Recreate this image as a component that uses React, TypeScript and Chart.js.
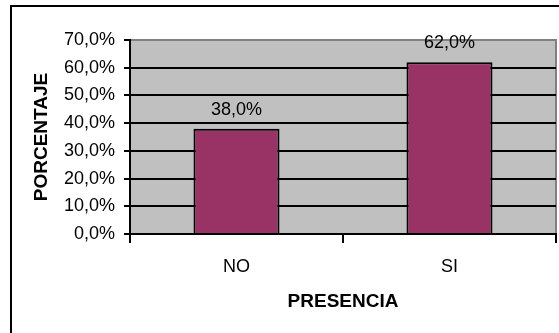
import React, { useEffect, useRef } from "react";
import { Chart, registerables } from "chart.js";

Chart.register(...registerables);

const categories = ["NO", "SI"];
const values = [38, 62];
const yTicks = [0, 10, 20, 30, 40, 50, 60, 70];
const xTitle = "PRESENCIA";
const yTitle = "PORCENTAJE";

const FONT = "'Liberation Sans', Arial, sans-serif";
const fmt = (v: number) => v.toFixed(1).replace(".", ",") + "%";

const framePlugin = {
  id: "frame",
  beforeDraw(chart: any) {
    const { ctx, chartArea } = chart;
    const { left, top, right, bottom } = chartArea;
    ctx.save();
    ctx.fillStyle = "#ffffff";
    ctx.fillRect(0, 0, chart.width, chart.height);
    ctx.strokeStyle = "#000000";
    ctx.lineWidth = 2;
    ctx.beginPath();
    ctx.moveTo(11, chart.height + 4);
    ctx.lineTo(11, 6);
    ctx.lineTo(chart.width + 4, 6);
    ctx.stroke();
    ctx.fillStyle = "#C0C0C0";
    ctx.fillRect(left, top, right - left, bottom - top);
    ctx.strokeStyle = "#808080";
    ctx.lineWidth = 2;
    ctx.strokeRect(left, top, right - left, bottom - top);
    ctx.restore();
  },
};

const labelPlugin = {
  id: "barLabels",
  afterDatasetsDraw(chart: any) {
    const { ctx } = chart;
    const meta = chart.getDatasetMeta(0);
    ctx.save();
    ctx.font = `18px ${FONT}`;
    ctx.fillStyle = "#000000";
    ctx.textAlign = "center";
    ctx.textBaseline = "middle";
    meta.data.forEach((bar: any, i: number) => {
      ctx.fillText(fmt(values[i]), bar.x, bar.y - 19);
    });
    ctx.restore();
  },
};

export default function App() {
  const ref = useRef<HTMLCanvasElement | null>(null);
  useEffect(() => {
    if (!ref.current) return;
    const chart = new Chart(ref.current, {
      type: "bar",
      data: {
        labels: categories,
        datasets: [
          {
            data: values,
            backgroundColor: "#993366",
            borderColor: "#000000",
            borderWidth: 2,
            barPercentage: 0.505,
            categoryPercentage: 0.8,
          },
        ],
      },
      options: {
        responsive: false,
        animation: false,
        devicePixelRatio: 1,
        layout: { padding: { top: 40, right: 3, left: 0, bottom: 0 } },
        plugins: { legend: { display: false }, tooltip: { enabled: false } },
        scales: {
          x: {
            afterFit: (s: any) => {
              s.height = 99;
            },
            grid: {
              drawOnChartArea: false,
              color: "#000000",
              lineWidth: 2,
              tickLength: 9,
            },
            border: { color: "#000000", width: 2 },
            ticks: {
              color: "#000000",
              font: { family: FONT, size: 18 },
              padding: 13,
            },
            title: {
              display: true,
              text: xTitle,
              color: "#000000",
              font: { family: FONT, size: 19, weight: "bold" },
              padding: { top: 0, bottom: 20 },
            },
          },
          y: {
            min: yTicks[0],
            max: yTicks[yTicks.length - 1],
            afterFit: (s: any) => {
              s.width = 130;
            },
            ticks: {
              stepSize: yTicks[1] - yTicks[0],
              color: "#000000",
              font: { family: FONT, size: 18 },
              padding: 9,
              callback: (v: any) => fmt(Number(v)),
            },
            grid: {
              color: (c: any) =>
                c.tick && c.tick.value === yTicks[yTicks.length - 1] ? "rgba(0,0,0,0)" : "#000000",
              tickColor: "#000000",
              lineWidth: 2,
              tickLength: 6,
            },
            border: { color: "#000000", width: 2 },
            title: {
              display: true,
              text: yTitle,
              color: "#000000",
              font: { family: FONT, size: 19, weight: "bold" },
              padding: { top: 30, bottom: 0 },
            },
          },
        },
      },
      plugins: [framePlugin, labelPlugin],
    });
    return () => chart.destroy();
  }, []);
  return (
    <div style={{ position: "fixed", left: 0, top: 0, width: 559, height: 333, background: "#fff" }}>
      <canvas ref={ref} width={559} height={333} style={{ width: 559, height: 333, display: "block" }} />
    </div>
  );
}
